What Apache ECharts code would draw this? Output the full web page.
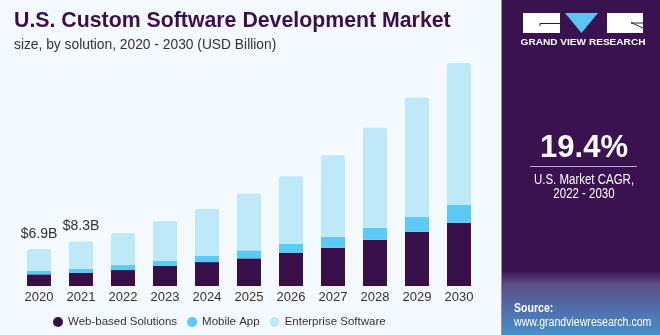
<!DOCTYPE html>
<html><head><meta charset="utf-8">
<script src="https://cdn.jsdelivr.net/npm/echarts@6/dist/echarts.min.js"></script>
<style>html,body{margin:0;padding:0;background:#F4F9FD;}#c{width:660px;height:335px;}</style>
</head><body><div id="c"></div>
<script>
var years = ['2020','2021','2022','2023','2024','2025','2026','2027','2028','2029','2030'];
var webBased = [2.2, 2.44, 3.0, 3.76, 4.5, 5.2, 6.2, 7.2, 8.7, 10.2, 11.9];
var mobileApp = [0.62, 0.75, 0.94, 1.0, 1.18, 1.5, 1.75, 2.0, 2.26, 2.76, 3.33];
var enterprise = [4.08, 5.2, 6.0, 7.46, 8.8, 10.7, 12.7, 15.4, 18.8, 22.5, 26.7];
var totalLabels = ['$6.9B', '$8.3B', '', '', '', '', '', '', '', '', ''];
var seriesNames = ['Web-based Solutions', 'Mobile App', 'Enterprise Software'];

var FONT = '"Liberation Sans", Arial, sans-serif';
var chart = echarts.init(document.getElementById('c'), null, {renderer: 'canvas'});
var barW = 24;
function txt(text, x, y, font, sx, align) {
  return {type: 'text', x: x, y: y, scaleX: sx || 1, z: 12,
    style: {text: text, x: 0, y: 0, textAlign: align || 'center', textVerticalAlign: 'middle', font: font, fill: '#FFFFFF'}};
}
chart.setOption({
  backgroundColor: '#F4F9FD',
  animation: false,
  title: [{
    text: 'U.S. Custom Software Development Market',
    left: 9, top: 6,
    textStyle: {fontFamily: FONT, fontWeight: 'bold', fontSize: 21.3, color: '#3A1049'}
  }, {
    text: 'size, by solution, 2020 - 2030 (USD Billion)',
    left: 9, top: 33,
    textStyle: {fontFamily: FONT, fontWeight: 'normal', fontSize: 13.8, color: '#333333'}
  }],
  grid: {left: 18, width: 462, top: 52, height: 234, containLabel: false},
  xAxis: {
    type: 'category', data: years,
    axisLine: {show: false}, axisTick: {show: false},
    axisLabel: {fontFamily: FONT, fontSize: 13, color: '#333333', margin: 5}
  },
  yAxis: {type: 'value', min: 0, max: 44, show: false, splitLine: {show: false}},
  legend: {
    data: seriesNames, bottom: 2, left: 48, icon: 'circle', itemWidth: 10, itemHeight: 10, itemGap: 10,
    textStyle: {fontFamily: FONT, fontSize: 11.5, color: '#333333'}
  },
  series: [{
    name: seriesNames[0], type: 'bar', stack: 't', data: webBased, barWidth: barW,
    itemStyle: {color: '#37104A'}
  }, {
    name: seriesNames[1], type: 'bar', stack: 't', data: mobileApp, barWidth: barW,
    itemStyle: {color: '#5BCBF5'}
  }, {
    name: seriesNames[2], type: 'bar', stack: 't', data: enterprise, barWidth: barW,
    itemStyle: {color: '#BDE9F9', borderRadius: [2, 2, 0, 0]},
    label: {show: true, position: 'top', distance: 8, fontFamily: FONT, fontSize: 14, color: '#333333',
      formatter: function (p) { return totalLabels[p.dataIndex]; }}
  }],
  graphic: [
    {type: 'rect', shape: {x: 501, y: 0, width: 159, height: 335}, style: {fill: '#3A1250'}, z: 10},
    {type: 'rect', shape: {x: 501, y: 0, width: 1, height: 335}, style: {fill: '#9A90A8'}, z: 11},
    {type: 'rect', shape: {x: 502, y: 272, width: 158, height: 63},
      style: {fill: new echarts.graphic.LinearGradient(0, 0, 0, 1, [{offset: 0, color: '#3E1A5A'}, {offset: 0.2, color: '#5A4F88'}, {offset: 1, color: '#4690CC'}])}, z: 11},
    {type: 'rect', shape: {x: 523, y: 13, width: 37, height: 20}, style: {fill: '#FFFFFF'}, z: 12},
    {type: 'polyline', shape: {points: [[540, 26], [540, 23.5], [560, 23.5]]}, style: {stroke: '#3A1250', lineWidth: 1, fill: null}, z: 13},
    {type: 'polygon', shape: {points: [[565, 13], [598, 13], [581.5, 33]]}, style: {fill: '#5BC5F2'}, z: 12},
    {type: 'rect', shape: {x: 607, y: 13, width: 36, height: 20}, style: {fill: '#FFFFFF'}, z: 12},
    {type: 'polyline', shape: {points: [[631, 22.5], [643, 28]]}, style: {stroke: '#3A1250', lineWidth: 1, fill: null}, z: 13},
    {type: 'polyline', shape: {points: [[631, 23], [643, 23]]}, style: {stroke: '#3A1250', lineWidth: 1, fill: null}, z: 13},
    txt('GRAND VIEW RESEARCH', 583, 43, 'bold 9px ' + FONT, 1.12),
    txt('19.4%', 584, 148, 'bold 31px ' + FONT, 1),
    {type: 'rect', shape: {x: 530, y: 166, width: 107, height: 1}, style: {fill: '#B8B0C4'}, z: 12},
    txt('U.S. Market CAGR,', 584, 180, '14px ' + FONT, 0.82),
    txt('2022 - 2030', 584, 194, '14px ' + FONT, 0.82),
    txt('Source:', 514, 309, 'bold 12px ' + FONT, 0.88, 'left'),
    txt('www.grandviewresearch.com', 514, 323, '12px ' + FONT, 0.88, 'left')
  ]
});
</script></body></html>
